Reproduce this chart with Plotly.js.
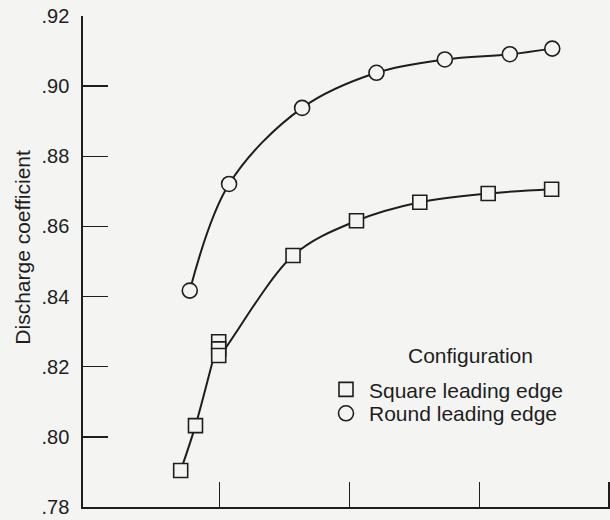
<!DOCTYPE html>
<html>
<head>
<meta charset="utf-8">
<script src="https://cdn.plot.ly/plotly-3.0.1.min.js"></script>
<style>html,body{margin:0;padding:0;background:#f4f4f2;}</style>
</head>
<body>
<div id="chart" style="width:610px;height:520px;"></div>
<script>
// Square leading edge
const squareX = [0.699, 0.813, 0.992, 0.992, 0.992, 1.565, 2.054, 2.542, 3.069, 3.558];
const squareY = [0.7904, 0.8032, 0.8271, 0.8251, 0.8232, 0.8517, 0.8616, 0.8669, 0.8694, 0.8706];
// Round leading edge
const roundX = [0.769, 1.072, 1.635, 2.208, 2.735, 3.236, 3.563];
const roundY = [0.8417, 0.8721, 0.8938, 0.9038, 0.9076, 0.9091, 0.9107];

const yTickVals = [0.78, 0.80, 0.82, 0.84, 0.86, 0.88, 0.90, 0.92];
const yTickText = ['.78', '.80', '.82', '.84', '.86', '.88', '.90', '.92'];
const xTickVals = [1, 2, 3, 4];

const ink = '#1e1e1e';
const bg = '#f4f4f2';
const fontFam = '"Liberation Sans", Arial, Helvetica, sans-serif';

const lineStyle = {color: ink, width: 2, shape: 'spline', smoothing: 1};

const traces = [
  {x: squareX, y: squareY, mode: 'lines', line: lineStyle, showlegend: false, hoverinfo: 'skip'},
  {x: roundX, y: roundY, mode: 'lines', line: lineStyle, showlegend: false, hoverinfo: 'skip'},
  {x: squareX, y: squareY, mode: 'markers', name: 'Square leading edge', legend: 'legend',
   marker: {symbol: 'square', size: 14, color: bg, line: {color: ink, width: 1.6}}},
  {x: roundX, y: roundY, mode: 'markers', name: 'Round leading edge', legend: 'legend2',
   marker: {symbol: 'circle', size: 15, color: bg, line: {color: ink, width: 1.6}}}
];

const legendBase = {
  xanchor: 'left', yanchor: 'top', itemwidth: 36,
  bgcolor: 'rgba(0,0,0,0)', font: {size: 21, color: ink}
};

const layout = {
  width: 610, height: 520,
  margin: {l: 83, r: 0, t: 16, b: 13},
  paper_bgcolor: bg, plot_bgcolor: bg,
  font: {family: fontFam, color: ink, size: 20},
  xaxis: {
    range: [-0.054, 4.008], showgrid: false, zeroline: false,
    showline: true, linecolor: ink, linewidth: 1.7,
    tickvals: xTickVals, ticks: 'inside', ticklen: 25, tickwidth: 1.4, tickcolor: ink,
    showticklabels: false
  },
  yaxis: {
    range: [0.78, 0.92], showgrid: false, zeroline: false,
    showline: true, linecolor: ink, linewidth: 1.7,
    tickvals: yTickVals, ticktext: yTickText,
    ticks: 'inside', ticklen: 25, tickwidth: 1.4, tickcolor: ink,
    tickfont: {size: 20}, ticklabelstandoff: 8
  },
  showlegend: true,
  legend: Object.assign({x: 0.4554, y: 0.2807}, legendBase),
  legend2: Object.assign({x: 0.4554, y: 0.2319}, legendBase),
  annotations: [
    {text: 'Configuration', xref: 'paper', yref: 'paper', x: 0.735, y: 0.3083,
     xanchor: 'center', yanchor: 'middle', showarrow: false, font: {size: 21, color: ink}},
    {text: 'Discharge coefficient', xref: 'paper', yref: 'paper', x: -0.114, y: 0.53,
     xanchor: 'center', yanchor: 'middle', textangle: -90, showarrow: false,
     font: {size: 21, color: ink}}
  ]
};

Plotly.newPlot('chart', traces, layout, {displayModeBar: false, staticPlot: true});
</script>
</body>
</html>
